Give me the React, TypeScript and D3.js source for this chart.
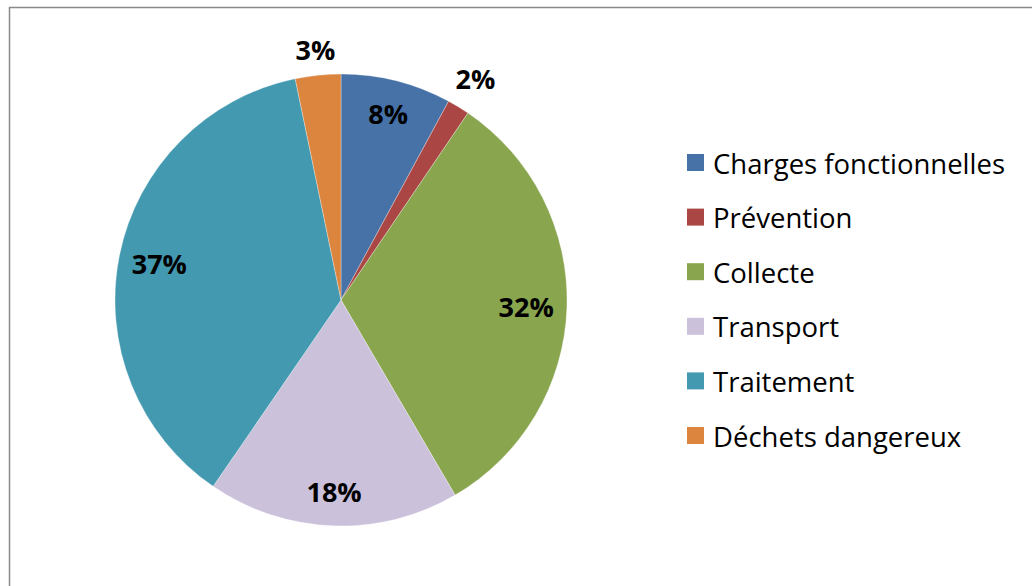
import React from "react";
import * as d3 from "d3";

const categories = [
  "Charges fonctionnelles",
  "Prévention",
  "Collecte",
  "Transport",
  "Traitement",
  "Déchets dangereux",
];
const values = [7.9, 1.6, 32.1, 18.0, 37.2, 3.25];
const labels = ["8%", "2%", "32%", "18%", "37%", "3%"];
const colors = ["#4672A8", "#AA4744", "#89A54E", "#CBC1DB", "#4299B0", "#DB853F"];

const W = 1032;
const H = 586;
const cx = 341;
const cy = 300;
const R = 226;

// label positions expressed as radius fraction per slice
const labelRadius = [0.85, 1.145, 0.82, 0.85, 0.82, 1.115];

export default function App() {
  const pie = d3.pie<number>().sort(null).value((d) => d)(values);
  const arc = d3.arc<d3.PieArcDatum<number>>().innerRadius(0).outerRadius(R);
  const font = "'Open Sans', 'Noto Sans', sans-serif";
  return (
    <svg
      width={W}
      height={H}
      style={{ position: "absolute", left: 0, top: 0, display: "block", background: "#fff" }}
    >
      <rect x={9.5} y={7.5} width={1040} height={600} fill="#fff" stroke="#8a8a8a" strokeWidth={1.5} />
      <g transform={`translate(${cx},${cy})`}>
        {pie.map((p, i) => (
          <path key={i} d={arc(p) || ""} fill={colors[i]} stroke="#fff" strokeWidth={0.5} strokeOpacity={0.6} />
        ))}
        {pie.map((p, i) => {
          const a = (p.startAngle + p.endAngle) / 2;
          const r = R * labelRadius[i];
          const x = Math.sin(a) * r;
          const y = -Math.cos(a) * r;
          return (
            <text
              key={"l" + i}
              x={x}
              y={y}
              textAnchor="middle"
              dominantBaseline="central"
              fontFamily={font}
              fontWeight="bold"
              fontSize={27}
              fill="#000"
            >
              {labels[i]}
            </text>
          );
        })}
      </g>
      <g>
        {categories.map((c, i) => {
          const y = 163 + i * 54.6;
          return (
            <g key={c}>
              <rect x={687} y={y - 9} width={17} height={17} fill={colors[i]} />
              <text
                x={713}
                y={y}
                dominantBaseline="central"
                fontFamily={font}
                fontSize={27.5}
                fill="#000"
              >
                {c}
              </text>
            </g>
          );
        })}
      </g>
    </svg>
  );
}
